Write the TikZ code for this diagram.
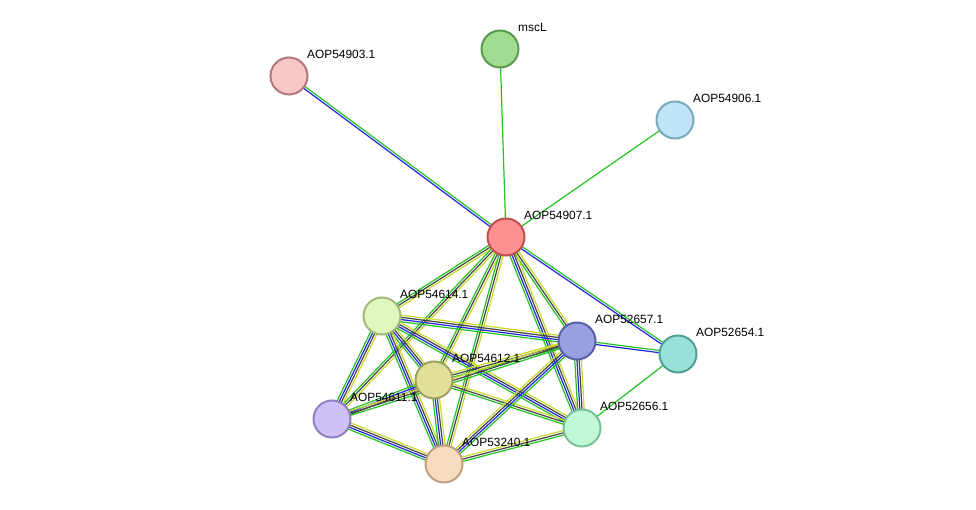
\documentclass[tikz,border=0pt]{standalone}
\usepackage{fontspec}
\setmainfont{Liberation Sans}
\usetikzlibrary{calc,backgrounds}
\definecolor{eg}{HTML}{22C322}
\definecolor{eb}{HTML}{2222E8}
\definecolor{ek}{HTML}{444444}
\definecolor{ey}{HTML}{C8D82A}
\newcommand\edg[4]{%
  \foreach \c [count=\i] in {#4}{%
    \pgfmathsetmacro\o{(\i-(#3+1)/2)*2.2}%
    \draw[\c,line width=1.2pt] ($(#1)!\o pt!90:(#2)$) -- ($(#2)!\o pt!-90:(#1)$);}}
\tikzset{prot/.style={circle,minimum size=37pt,line width=2pt,inner sep=0pt},
 lab/.style={font=\fontsize{11.9}{13}\selectfont,anchor=south west,inner sep=0pt}}
\begin{document}
\begin{tikzpicture}[x=1pt,y=-1pt]
\useasboundingbox (0,0) rectangle (976,510);
\foreach \n/\x/\y/\f/\d/\t in {
 a/289/76/F8C8C8/B07878/AOP54903.1,
 m/500/49/A0DC90/5A9A50/mscL,
 s/675/120/C0E4F8/78A8C0/AOP54906.1,
 r/506/237/FF9090/C05050/AOP54907.1,
 p/382/316/E0F8C0/A0B878/AOP54614.1,
 b/577/341/98A0E0/5860A8/AOP52657.1,
 t/678/354/98E0D8/50A098/AOP52654.1,
 k/434/380/E0E098/A0A060/AOP54612.1,
 l/332/419/D0C0F8/9080C0/AOP54611.1,
 g/582/428/C0F8D8/78C098/AOP52656.1,
 e/444/464/F8DCC0/C0A080/AOP53240.1}{
 \definecolor{f\n}{HTML}{\f}\definecolor{d\n}{HTML}{\d}
 \node[prot,fill=f\n,draw=d\n] (\n) at (\x,\y) {};
 \node[lab] (L\n) at (\x+18,\y-17) {\t};
}
\begin{scope}[on background layer]
\edg{a}{r}{2}{eb,eg}
\edg{m}{r}{1}{eg}
\edg{s}{r}{1}{eg}
\edg{r}{t}{2}{eb,eg}
\edg{t}{g}{1}{eg}
\edg{t}{b}{2}{eg,eb}
\edg{r}{p}{3}{eg,ek,ey}
\edg{r}{k}{3}{eg,ek,ey}
\edg{r}{l}{3}{eg,ek,ey}
\edg{r}{e}{3}{eg,ek,ey}
\edg{r}{b}{3}{eg,ek,ey}
\edg{r}{g}{4}{eg,eb,ek,ey}
\edg{p}{b}{4}{eg,eb,ek,ey}
\edg{p}{k}{4}{eg,eb,ek,ey}
\edg{p}{l}{4}{eg,eb,ek,ey}
\edg{p}{e}{4}{eg,eb,ek,ey}
\edg{p}{g}{4}{eg,eb,ek,ey}
\edg{k}{b}{3}{eg,ek,ey}
\edg{k}{l}{3}{eg,eb,ek}
\edg{k}{e}{4}{eg,eb,ek,ey}
\edg{k}{g}{3}{eg,ek,ey}
\edg{l}{e}{4}{eg,eb,ek,ey}
\edg{l}{b}{3}{eg,ek,ey}
\edg{e}{b}{4}{eg,eb,ek,ey}
\edg{e}{g}{3}{eg,ek,ey}
\edg{b}{g}{4}{eg,eb,ek,ey}
\end{scope}
\end{tikzpicture}
\end{document}
